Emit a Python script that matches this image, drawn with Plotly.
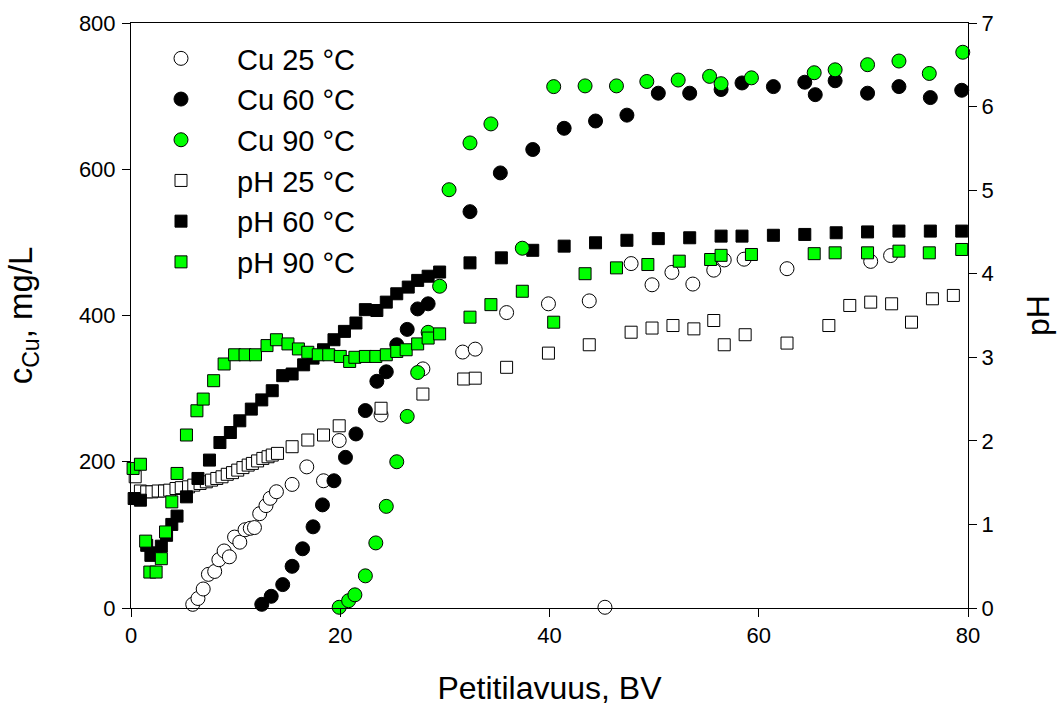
import plotly.graph_objects as go

# Bed volumes (BV) and copper concentrations (mg/L)
cu25_x = [5.9, 6.4, 6.9, 7.4, 8.0, 8.4, 8.9, 9.4, 9.9, 10.4, 10.9, 11.4, 11.8, 12.3, 12.9, 13.3, 13.9, 15.4, 16.8, 18.4,
          19.9, 23.9, 27.9, 31.7, 32.9, 35.9, 39.9, 43.8, 45.3, 47.8, 49.8, 51.7, 53.7, 55.7, 56.7, 58.6, 62.7, 70.7, 72.6]
cu25_y = [5, 13, 26, 46, 50, 66, 78, 70, 97, 90, 107, 109, 110, 129, 140, 150, 159, 169, 193, 174,
          229, 264, 327, 350, 354, 404, 416, 420, 1, 471, 442, 459, 443, 462, 476, 477, 464, 474, 482]

cu60_x = [12.5, 13.4, 14.5, 15.4, 16.4, 17.4, 18.3, 19.4, 20.5, 21.5, 22.4, 23.5, 24.4, 25.4, 26.4, 27.4, 28.4, 32.4,
          35.3, 38.4, 41.4, 44.4, 47.4, 50.4, 53.4, 56.4, 58.4, 61.4, 64.4, 65.4, 67.3, 70.4, 73.4, 76.4, 79.4]
cu60_y = [5, 16, 32, 57, 81, 111, 141, 174, 206, 238, 270, 310, 323, 360, 381, 409, 416, 542,
          595, 627, 656, 666, 674, 704, 704, 709, 718, 713, 719, 702, 721, 704, 713, 698, 708]

cu90_x = [19.9, 20.8, 21.4, 22.4, 23.4, 24.4, 25.4, 26.4, 27.4, 28.4, 29.5, 30.4, 32.4, 34.4, 37.4, 40.4, 43.4,
          46.4, 49.3, 52.3, 55.3, 56.4, 59.3, 65.3, 67.3, 70.4, 73.4, 76.3, 79.5]
cu90_y = [1, 10, 18, 44, 89, 139, 200, 262, 322, 377, 440, 572, 636, 662, 492, 713, 714,
          714, 720, 722, 727, 717, 725, 732, 736, 743, 748, 731, 760]

# pH values
ph25_x = [0.4, 0.9, 1.5, 2.0, 2.6, 3.2, 3.7, 4.3, 4.8, 5.5, 6.0, 6.6, 7.2, 7.7, 8.2, 8.7, 9.2, 9.7, 10.2, 10.7,
          11.2, 11.6, 12.1, 12.6, 13.1, 13.5, 14.0, 15.4, 16.9, 18.4, 19.9, 23.9, 27.9, 31.8, 32.9, 35.9, 39.9,
          43.8, 47.8, 49.8, 51.8, 53.8, 55.7, 56.7, 58.7, 62.7, 66.7, 68.7, 70.7, 72.7, 74.6, 76.6, 78.6]
ph25_y = [1.57, 1.40, 1.39, 1.39, 1.40, 1.40, 1.41, 1.43, 1.44, 1.45, 1.47, 1.49, 1.51, 1.53, 1.55, 1.57, 1.60,
          1.62, 1.65, 1.68, 1.71, 1.73, 1.76, 1.79, 1.81, 1.83, 1.85, 1.93, 2.01, 2.07, 2.18, 2.39, 2.56, 2.74,
          2.75, 2.88, 3.05, 3.15, 3.30, 3.35, 3.38, 3.34, 3.44, 3.15, 3.27, 3.17, 3.38, 3.62, 3.66, 3.64, 3.42,
          3.70, 3.74]

ph60_x = [0.3, 0.9, 1.5, 1.9, 2.4, 2.9, 3.4, 3.9, 4.4, 5.3, 6.4, 7.5, 8.5, 9.5, 10.4, 11.5, 12.5, 13.5, 14.5,
          15.4, 16.5, 17.4, 18.4, 19.4, 20.4, 21.5, 22.4, 23.5, 24.4, 25.4, 26.5, 27.4, 28.4, 29.5, 32.4, 35.4,
          38.4, 41.4, 44.4, 47.4, 50.4, 53.4, 56.4, 58.4, 61.4, 64.4, 67.4, 70.4, 73.4, 76.4, 79.4]
ph60_y = [1.31, 1.29, 0.75, 0.63, 0.66, 0.74, 0.87, 1.0, 1.1, 1.33, 1.55, 1.77, 1.98, 2.10, 2.24, 2.38, 2.49,
          2.60, 2.78, 2.80, 2.91, 2.99, 3.09, 3.21, 3.31, 3.41, 3.57, 3.56, 3.66, 3.76, 3.84, 3.92, 3.97, 4.02,
          4.13, 4.19, 4.28, 4.33, 4.37, 4.40, 4.42, 4.43, 4.45, 4.45, 4.46, 4.47, 4.49, 4.50, 4.51, 4.51, 4.51]

ph90_x = [0.2, 0.9, 1.4, 1.8, 2.4, 2.9, 3.3, 3.9, 4.4, 5.3, 6.3, 6.9, 7.9, 8.9, 9.9, 10.9, 11.9, 13.0, 13.9,
          15.0, 16.0, 16.9, 17.9, 18.9, 20.0, 20.9, 21.4, 22.4, 23.4, 24.4, 25.4, 26.3, 27.4, 28.4, 29.5, 32.4,
          34.4, 37.4, 40.4, 43.4, 46.4, 49.4, 52.4, 55.4, 56.4, 59.3, 65.3, 67.3, 70.4, 73.4, 76.3, 79.4]
ph90_y = [1.67, 1.72, 0.80, 0.43, 0.43, 0.59, 0.91, 1.27, 1.61, 2.07, 2.36, 2.50, 2.72, 2.92, 3.03, 3.03, 3.03,
          3.14, 3.21, 3.16, 3.10, 3.06, 3.03, 3.03, 3.01, 2.95, 3.00, 3.01, 3.01, 3.03, 3.07, 3.09, 3.16, 3.23,
          3.28, 3.48, 3.63, 3.79, 3.42, 4.00, 4.07, 4.11, 4.15, 4.17, 4.22, 4.23, 4.24, 4.25, 4.25, 4.27, 4.25,
          4.29]

x_ticks = [0, 20, 40, 60, 80]
GREEN = "#00ff00"
FONT = "Liberation Sans, Arial, sans-serif"

def mk(x, y, name, symbol, fill, size, yaxis):
    return go.Scatter(
        x=x, y=y, name=name, mode="markers", yaxis=yaxis, cliponaxis=False,
        marker=dict(symbol=symbol, color=fill, size=size, line=dict(color="black", width=1)),
    )

fig = go.Figure()
fig.add_trace(mk(cu25_x, cu25_y, "Cu 25 °C", "circle", "white", 14, "y"))
fig.add_trace(mk(cu60_x, cu60_y, "Cu 60 °C", "circle", "black", 14, "y"))
fig.add_trace(mk(cu90_x, cu90_y, "Cu 90 °C", "circle", GREEN, 14, "y3"))
fig.add_trace(mk(ph25_x, ph25_y, "pH 25 °C", "square", "white", 12, "y2"))
fig.add_trace(mk(ph60_x, ph60_y, "pH 60 °C", "square", "black", 12, "y2"))
fig.add_trace(mk(ph90_x, ph90_y, "pH 90 °C", "square", GREEN, 12, "y4"))

axis_common = dict(showline=True, linecolor="black", linewidth=1, ticks="outside", ticklen=8,
                   tickcolor="black", showgrid=False, zeroline=False, automargin=False,
                   tickfont=dict(size=22, color="black", family=FONT))

fig.update_layout(
    width=1061, height=706,
    margin=dict(l=131, r=93, t=23, b=98, autoexpand=False),
    paper_bgcolor="white", plot_bgcolor="white",
    font=dict(family=FONT, color="black"),
    xaxis=dict(range=[0, 80], tickvals=x_ticks, mirror=True,
               title=dict(text="Petitilavuus, BV", font=dict(size=32, color="black", family=FONT), standoff=32),
               **axis_common),
    yaxis=dict(range=[0, 800], dtick=200, ticklabelstandoff=2,
               title=dict(text="c<sub>Cu</sub>, mg/L",
                          font=dict(size=33, color="black", family=FONT), standoff=36),
               **axis_common),
    yaxis2=dict(range=[0, 7], dtick=1, overlaying="y", side="right",
                title=dict(text="pH", font=dict(size=32, color="black", family=FONT), standoff=33),
                **axis_common),
    yaxis3=dict(range=[0, 800], overlaying="y", visible=False),
    yaxis4=dict(range=[0, 7], overlaying="y", visible=False),
    showlegend=True,
    legend=dict(x=(125 - 131) / 837, y=(608 - 33) / 585, xanchor="left", yanchor="top",
                bgcolor="rgba(0,0,0,0)", font=dict(size=29, color="black", family=FONT),
                itemwidth=102, tracegroupgap=0),
)

fig.write_html("out.html")
